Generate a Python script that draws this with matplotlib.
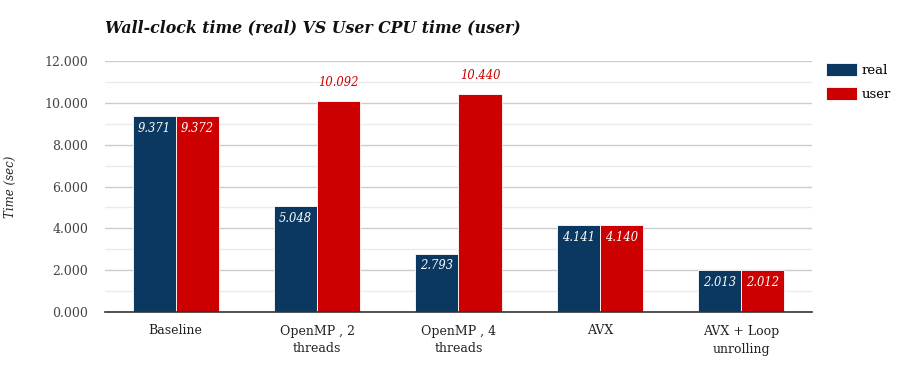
import matplotlib
matplotlib.use("Agg")
import matplotlib.pyplot as plt
import numpy as np
from matplotlib.ticker import MultipleLocator, FuncFormatter

categories = ["Baseline", "OpenMP , 2\nthreads", "OpenMP , 4\nthreads", "AVX", "AVX + Loop\nunrolling"]
real = [9.371, 5.048, 2.793, 4.141, 2.013]
user = [9.372, 10.092, 10.440, 4.140, 2.012]
series_names = ["real", "user"]

c_real = "#0b3861"
c_user = "#cc0000"
font = "DejaVu Serif"

fig = plt.figure(figsize=(8.98, 3.68), dpi=100)
ax = fig.add_axes([105/898, 1-312/368, (812-105)/898, (312-61)/368])

x = np.arange(len(categories))
w = 0.305
b1 = ax.bar(x - w/2, real, w, color=c_real, edgecolor="white", linewidth=0.6, label=series_names[0], zorder=3)
b2 = ax.bar(x + w/2, user, w, color=c_user, edgecolor="white", linewidth=0.6, label=series_names[1], zorder=3)

ax.set_xlim(-0.5, len(categories) - 0.5)
ax.set_ylim(0, 12)
ax.yaxis.set_major_locator(MultipleLocator(2))
ax.yaxis.set_minor_locator(MultipleLocator(1))
ax.yaxis.set_major_formatter(FuncFormatter(lambda v, p: f"{v:.3f}"))
ax.grid(axis="y", which="major", color="#cccccc", linewidth=1, zorder=0)
ax.grid(axis="y", which="minor", color="#ebebeb", linewidth=1, zorder=0)
for s in ["top", "right", "left"]:
    ax.spines[s].set_visible(False)
ax.spines["bottom"].set_color("#333333")
ax.spines["bottom"].set_linewidth(1.2)
ax.spines["bottom"].set_zorder(4)
ax.tick_params(axis="y", which="both", length=0, pad=12, labelsize=9, labelcolor="#444444")
ax.tick_params(axis="x", length=0, pad=9, labelsize=9, labelcolor="#222222")
ax.set_xticks(x)
ax.set_xticklabels(categories, fontfamily=font, linespacing=1.5)
for lab in ax.get_yticklabels():
    lab.set_fontfamily(font)

ax.set_ylabel("Time (sec)", fontfamily=font, fontstyle="italic", fontsize=8.5, color="#222222")
ax.yaxis.set_label_coords((17-105)/707, 0.5)

for bars, vals, col in [(b1, real, c_real), (b2, user, c_user)]:
    for r, v in zip(bars, vals):
        cx = r.get_x() + r.get_width()/2
        if v > 10:
            ax.text(cx, v + 0.55, f"{v:.3f}", ha="center", va="bottom", color=col,
                    fontfamily=font, fontstyle="italic", fontsize=8.3)
        else:
            ax.text(cx, v - 0.27, f"{v:.3f}", ha="center", va="top", color="white",
                    fontfamily=font, fontstyle="italic", fontsize=8.3, zorder=5)

fig.text(105/898, 1-28/368, "Wall-clock time (real) VS User CPU time (user)", fontfamily=font,
         fontstyle="italic", fontweight="bold", fontsize=11.3, va="center", ha="left", color="#111111")

leg = fig.legend(handles=[b1, b2], labels=series_names, loc="upper left", bbox_to_anchor=(821/898, 1-58/368),
                 frameon=False, prop={"family": font, "size": 9.5}, handlelength=2.3, handleheight=1.1,
                 handletextpad=0.4, labelspacing=0.75, borderaxespad=0)

fig.savefig("out.png", dpi=100)
